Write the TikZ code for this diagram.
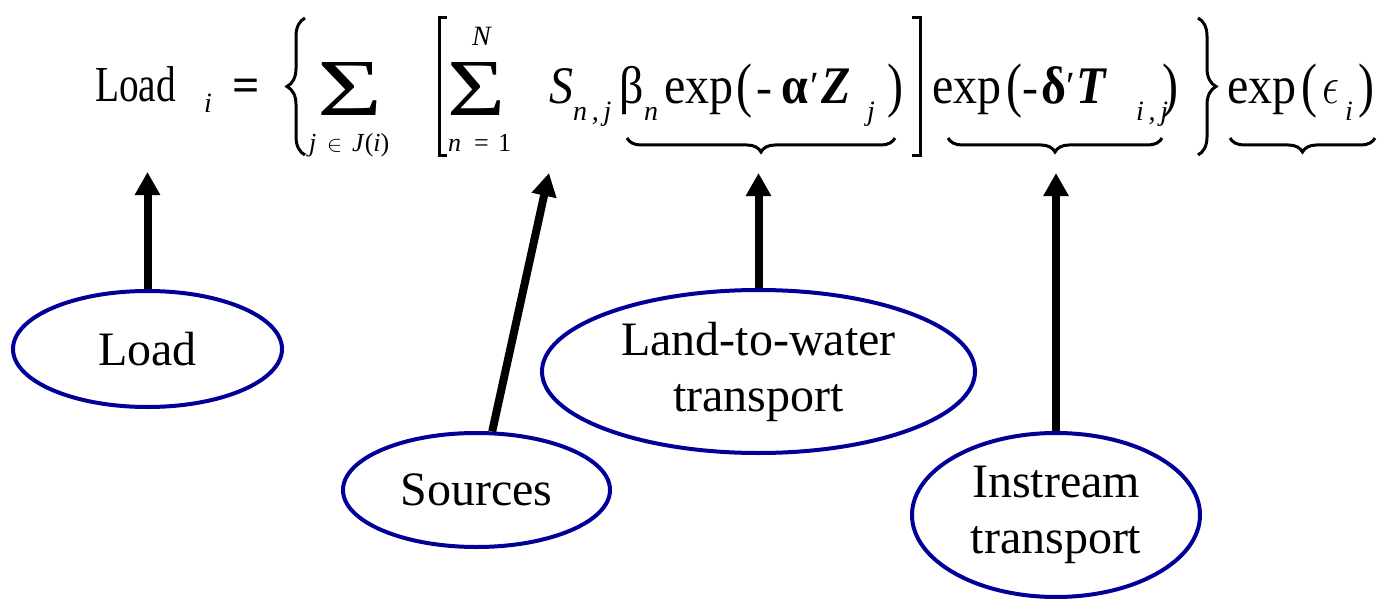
\documentclass[tikz,border=0pt]{standalone}
\usepackage{fontspec}
\setmainfont{Liberation Serif}
\usepackage{graphicx}
\usetikzlibrary{arrows.meta,shapes.geometric,decorations.pathreplacing}
\definecolor{ellblue}{RGB}{0,0,153}
\newcommand{\tallx}[1]{\scalebox{1}[1.1]{#1}}
\newcommand{\tallp}[1]{\scalebox{1}[1.25]{#1}}
\tikzset{
  bubble/.style={ellipse, draw=ellblue, line width=4pt, inner sep=0pt, align=center, font=\fontsize{48}{56}\selectfont},
  pointer/.style={line width=8pt, -{Triangle[length=23pt,width=24pt]}},
  eq/.style={anchor=base west, inner sep=0pt, font=\fontsize{48}{48}\selectfont},
  sub/.style={anchor=base west, inner sep=0pt, font=\fontsize{28}{28}\selectfont\itshape},
  lim/.style={anchor=base west, inner sep=0pt, font=\fontsize{26}{26}\selectfont\itshape},
  delim/.style={line width=3pt},
  ubrace/.style={line width=3pt, decorate, decoration={brace, mirror, amplitude=14pt}},
  cbrace/.style={line width=3pt, decorate, decoration={brace, amplitude=18pt}},
}
\begin{document}
\begin{tikzpicture}[x=1pt,y=-1pt]
\path[fill=white,use as bounding box] (0,0) rectangle (1381,599);
% ---- equation ----
\node[eq] (loadtxt) at (95,102) {\scalebox{0.82}[1.05]{Load}};
\node[sub] (loadsub) at (204,113) {i};
\node[eq] (eqsign) at (232,102) {\bfseries =};
\draw[cbrace] (305,155) -- (305,18);
\node[anchor=south west,inner sep=0pt,font=\fontsize{48}{48}\selectfont] (sum1) at (317,116) {\resizebox{65pt}{53pt}{Σ}};
\node[lim] (lj) at (309,151) {j};
\node[lim,font=\fontsize{26}{26}\selectfont] (lin) at (327,151) {\resizebox{15pt}{!}{$\in$}};
\node[lim] (lJ) at (352,151) {J\textup{(}i\textup{)}};
\draw[delim] (447,18) -- (439,18) -- (439,155) -- (447,155);
\node[anchor=south west,inner sep=0pt,font=\fontsize{48}{48}\selectfont] (sum2) at (447,116) {\resizebox{58pt}{53pt}{Σ}};
\node[sub] (uN) at (472,46) {N};
\node[lim] (ln) at (448,151) {n};
\node[lim,font=\fontsize{26}{26}\selectfont] (leq) at (474,151) {=};
\node[lim,font=\fontsize{26}{26}\selectfont] (lone) at (498,151) {1};
\node[eq,font=\fontsize{48}{48}\selectfont\itshape] (S) at (549,104) {\tallx{S}};
\node[sub] (Ssub) at (573,121) {n\,,\,j};
\node[eq] (beta) at (619,104) {\tallx{β}};
\node[sub] (betasub) at (644,121) {n};
\node[eq] (exp1) at (664,104) {\tallx{exp}};
\node[eq] (lp1) at (736,106) {\tallp{(}};
\node[eq] (m1) at (756,104) {-};
\node[eq,font=\fontsize{48}{48}\selectfont\bfseries] (alpha) at (781,104) {\tallx{α}};
\node[eq,font=\fontsize{40}{40}\selectfont] (pr1) at (810,100) {′};
\node[eq,font=\fontsize{48}{48}\selectfont\bfseries\itshape] (Z) at (821,104) {\tallx{Z}};
\node[sub] (Zsub) at (867,121) {j};
\node[eq] (rp1) at (887,106) {\tallp{)}};
\draw[ubrace] (627,138) -- (895,138);
\draw[delim] (912,18) -- (920,18) -- (920,155) -- (912,155);
\node[eq] (exp2) at (932,104) {\tallx{exp}};
\node[eq] (lp2) at (1006,106) {\tallp{(}};
\node[eq] (m2) at (1022,104) {-};
\node[eq,font=\fontsize{48}{48}\selectfont\bfseries] (delta) at (1041,104) {\tallx{δ}};
\node[eq,font=\fontsize{40}{40}\selectfont] (pr2) at (1066,100) {′};
\node[eq,font=\fontsize{48}{48}\selectfont\bfseries\itshape] (T) at (1076,104) {\tallx{T}};
\node[sub] (Tsub) at (1136,121) {i\,,\,j};
\node[eq] (rp2) at (1162,106) {\tallp{)}};
\draw[ubrace] (948,138) -- (1162,138);
\draw[cbrace] (1198,18) -- (1198,155);
\node[eq] (exp3) at (1227,104) {\tallx{exp}};
\node[eq] (lp3) at (1301,106) {\tallp{(}};
\node[eq] (eps) at (1322,104) {\resizebox{17pt}{23pt}{$\epsilon$}};
\node[sub] (epssub) at (1345,121) {i};
\node[eq] (rp3) at (1358,106) {\tallp{)}};
\draw[ubrace] (1230,138) -- (1375,138);
% ---- bubbles ----
\node[bubble, minimum width=269pt, minimum height=116pt] (load) at (147.5,349) {Load};
\node[bubble, minimum width=267pt, minimum height=114pt] (src) at (476.5,490) {Sources};
\node[bubble, minimum width=433pt, minimum height=163pt] (land) at (758.5,371.5) {Land-to-water\\transport};
\node[bubble, minimum width=288pt, minimum height=164pt] (inst) at (1056,515) {Instream\\transport};
% ---- pointers ----
\coordinate (tLoad) at (145,172);
\coordinate (tSrc) at (549,173);
\coordinate (tLand) at (759,173);
\coordinate (tInst) at (1056,173);
\draw[pointer] (load.north) -- (load.north |- tLoad);
\draw[pointer] (src.75) -- (tSrc);
\draw[pointer] (land.north) -- (land.north |- tLand);
\draw[pointer] (inst.north) -- (inst.north |- tInst);
\end{tikzpicture}
\end{document}
